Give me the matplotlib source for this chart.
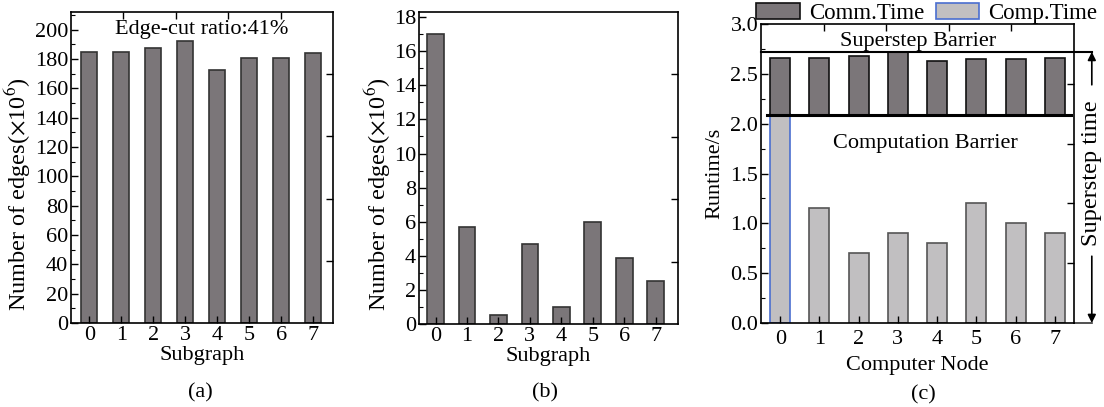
import numpy as np
import matplotlib
matplotlib.use("Agg")
import matplotlib.pyplot as plt
from matplotlib.patches import Patch

plt.rcParams["font.family"] = ["Liberation Serif", "DejaVu Serif"]
plt.rcParams["mathtext.fontset"] = "stix"
plt.rcParams["font.size"] = 16

# Data
subgraphs = np.arange(8)
edges_a = [185, 185, 187.5, 192, 172.5, 181, 181, 184]
edges_b = [17, 5.7, 0.5, 4.7, 1.0, 6.0, 3.9, 2.5]

nodes = np.arange(8)
comp_time = [2.10, 1.15, 0.70, 0.90, 0.80, 1.20, 1.00, 0.90]
comm_top = [2.66, 2.66, 2.68, 2.72, 2.63, 2.65, 2.65, 2.66]
comp_barrier = 2.09
superstep_barrier = 2.72

DARK = "#7b7679"
LIGHT = "#c1bfc1"
BLUE = "#4a6ed0"

fig = plt.figure(figsize=(11.04, 4.07), dpi=100)
ax_a = fig.add_axes([0.0643, 0.2064, 0.2373, 0.764])
ax_b = fig.add_axes([0.3795, 0.2039, 0.2346, 0.7666])
ax_c = fig.add_axes([0.6893, 0.2064, 0.2835, 0.7346])


def style(ax, top=True):
    for s in ax.spines.values():
        s.set_linewidth(1.2)
    ax.tick_params(which="both", direction="in", top=False, right=False)
    ax.tick_params(which="major", length=5, width=1, pad=2)
    ax.tick_params(which="minor", length=3, width=0.8)
    # extra ticks on the right (and top) spine at fifths of the axis
    tw = ax.twinx()
    tw.set_ylim(0, 1)
    tw.set_yticks([0.2, 0.4, 0.6, 0.8])
    tw.tick_params(direction="in", length=5, width=1, labelright=False)
    for s in tw.spines.values():
        s.set_visible(False)
    if top:
        ty = ax.twiny()
        ty.set_xlim(0, 1)
        ty.set_xticks([0.2, 0.4, 0.6, 0.8])
        ty.tick_params(direction="in", length=5, width=1, labeltop=False)
        for s in ty.spines.values():
            s.set_visible(False)


# (a)
ax_a.bar(subgraphs, edges_a, width=0.5, color=DARK, edgecolor="#333333", linewidth=1.2)
ax_a.set_xlim(-0.57, 7.62)
ax_a.set_ylim(0, 212)
ax_a.set_yticks(np.arange(0, 201, 20))
ax_a.set_yticks(np.arange(10, 212, 20), minor=True)
ax_a.set_xticks(subgraphs)
ax_a.set_xlabel("Subgraph", labelpad=1)
ax_a.set_ylabel(r"Number of edges($\times$10$^6$)", labelpad=1, fontsize=17.5, y=0.415)
ax_a.text(0.5, 0.945, "Edge-cut ratio:41%", transform=ax_a.transAxes,
          ha="center", va="center")
style(ax_a)

# (b)
ax_b.bar(subgraphs, edges_b, width=0.53, color=DARK, edgecolor="#333333", linewidth=1.2)
ax_b.set_xlim(-0.53, 7.71)
ax_b.set_ylim(0, 18.3)
ax_b.set_yticks(np.arange(0, 19, 2))
ax_b.set_yticks(np.arange(1, 18.3, 2), minor=True)
ax_b.set_xticks(subgraphs)
ax_b.set_xlabel("Subgraph", labelpad=1)
ax_b.set_ylabel(r"Number of edges($\times$10$^6$)", labelpad=1, fontsize=17.5, y=0.415)
style(ax_b, top=False)

# (c)
comm_height = [t - comp_barrier for t in comm_top]
ax_c.bar(nodes, comp_time, width=0.51, color=LIGHT,
         edgecolor=[BLUE] + ["#555555"] * 7, linewidth=1.2)
ax_c.bar(nodes, comm_height, bottom=comp_barrier, width=0.51, color=DARK,
         edgecolor="#111111", linewidth=1.2)
ax_c.set_xlim(-0.49, 7.49)
ax_c.set_ylim(0, 3.0)
ax_c.set_yticks(np.arange(0, 3.01, 0.5))
ax_c.set_yticks(np.arange(0.25, 3.0, 0.5), minor=True)
ax_c.set_yticklabels([f"{v:.1f}" for v in np.arange(0, 3.01, 0.5)])
ax_c.set_xticks(nodes)
ax_c.set_xlabel("Computer Node", labelpad=5)
ax_c.set_ylabel("Runtime/s", labelpad=4)

xr = 1.057
ax_c.plot([0, xr], [superstep_barrier, superstep_barrier], color="black",
          lw=1.5, transform=ax_c.get_yaxis_transform(), clip_on=False)
ax_c.plot([1, xr], [0, 0], color="#333333", lw=1.2,
          transform=ax_c.get_yaxis_transform(), clip_on=False)
ax_c.plot([-0.345, 7.42], [comp_barrier, comp_barrier], color="black", lw=2.2)
ax_c.text(3.52, 2.82, "Superstep Barrier", ha="center", va="center")
ax_c.text(3.69, 1.80, "Computation Barrier", ha="center", va="center")
ax_c.annotate("", xy=(xr, superstep_barrier), xytext=(xr, 2.39),
              xycoords=ax_c.get_yaxis_transform(),
              arrowprops=dict(arrowstyle="-|>", color="black", lw=1.2,
                              mutation_scale=12, shrinkA=0, shrinkB=0),
              annotation_clip=False)
ax_c.annotate("", xy=(xr, 0), xytext=(xr, 0.67),
              xycoords=ax_c.get_yaxis_transform(),
              arrowprops=dict(arrowstyle="-|>", color="black", lw=1.2,
                              mutation_scale=12, shrinkA=0, shrinkB=0),
              annotation_clip=False)
ax_c.text(xr, 1.5, "Superstep time", rotation=90, ha="center", va="center",
          fontsize=17.5, transform=ax_c.get_yaxis_transform())

handles = [Patch(facecolor=DARK, edgecolor="#111111", lw=1.2, label="Comm.Time"),
           Patch(facecolor=LIGHT, edgecolor=BLUE, lw=1.2, label="Comp.Time")]
ax_c.legend(handles=handles, loc="lower center", bbox_to_anchor=(0.53, 1.0),
            ncol=2, frameon=False, handlelength=1.9, handleheight=0.7,
            handletextpad=0.4, columnspacing=0.5, borderpad=0, borderaxespad=0,
            fontsize=16.5)
style(ax_c)
ax_c.tick_params(axis="x", pad=5)

fig.text(200 / 1104, 1 - 393 / 407, "(a)", ha="center", va="center")
fig.text(545 / 1104, 1 - 393 / 407, "(b)", ha="center", va="center")
fig.text(923 / 1104, 1 - 395 / 407, "(c)", ha="center", va="center")

fig.savefig("out.png", dpi=100)
